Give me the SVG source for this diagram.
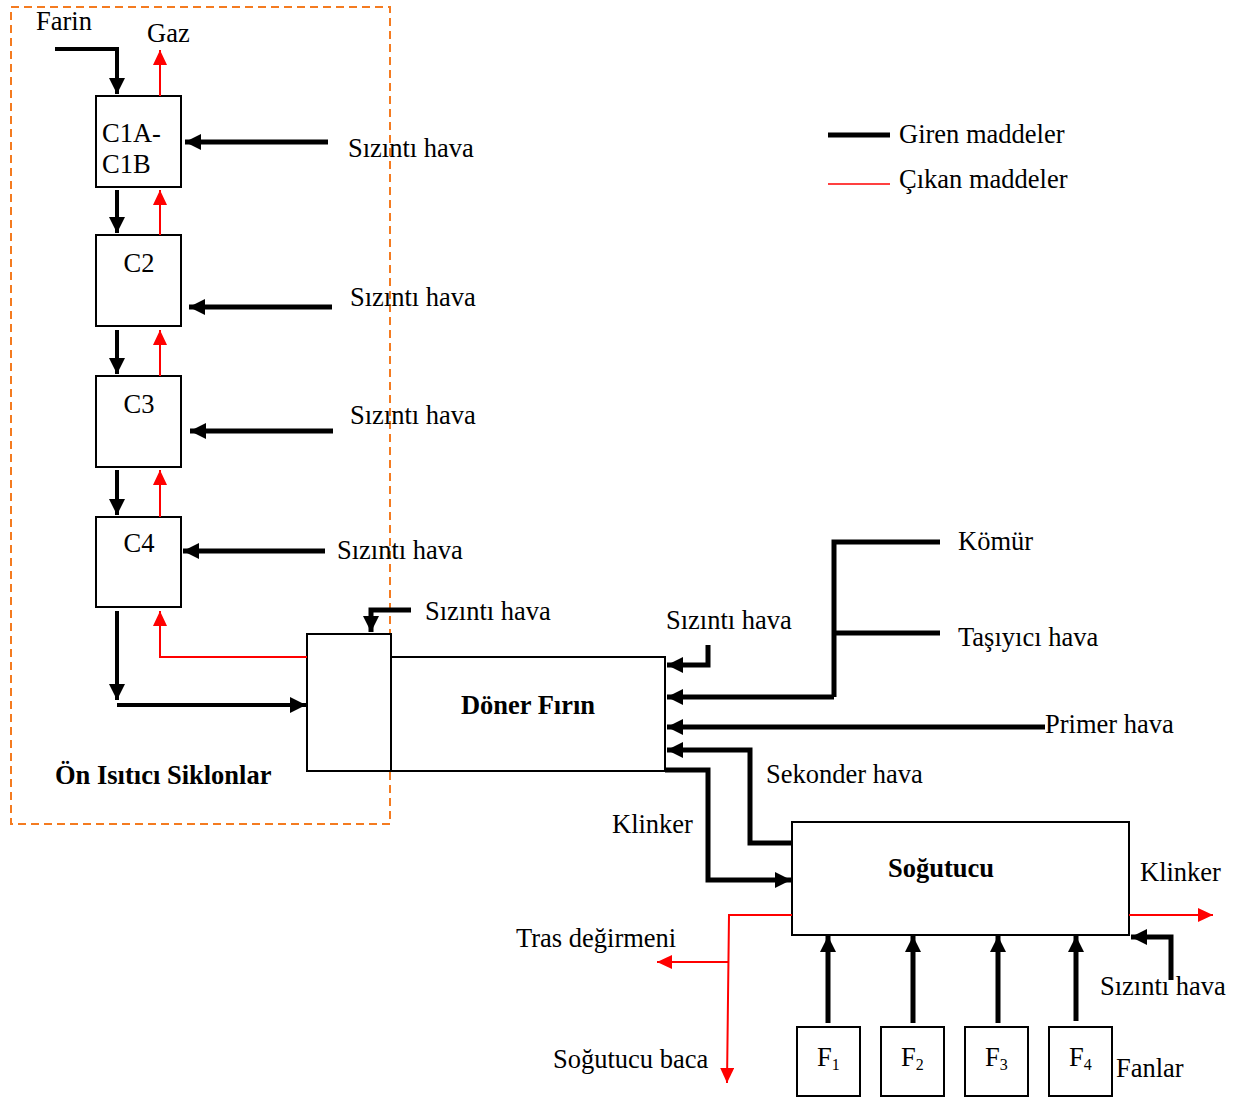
<svg xmlns="http://www.w3.org/2000/svg" width="1252" height="1100" viewBox="0 0 1252 1100">
<style>
text{font-family:"Liberation Serif","Times New Roman",serif;font-size:26.5px;fill:#000}
.b{font-weight:bold}
.box{fill:#fff;stroke:#000;stroke-width:2}
.k{fill:none;stroke:#000;stroke-width:5}
.k4{fill:none;stroke:#000;stroke-width:4}
.r{fill:none;stroke:#f00;stroke-width:2}
.ka{marker-end:url(#hk)}
.ra{marker-end:url(#hr)}
</style>
<defs>
<marker id="hk" markerUnits="userSpaceOnUse" markerWidth="18" markerHeight="18" refX="16" refY="8" orient="auto">
<path d="M0,0 L16,8 L0,16 z" fill="#000"/>
</marker>
<marker id="hr" markerUnits="userSpaceOnUse" markerWidth="18" markerHeight="18" refX="15" refY="7" orient="auto">
<path d="M0,0 L15,7 L0,14 z" fill="#f00"/>
</marker>
</defs>
<rect width="1252" height="1100" fill="#fff"/>

<g id="preheater-frame">
<rect x="11" y="7" width="379" height="817" fill="none" stroke="#F47B20" stroke-width="2" stroke-dasharray="8,5"/>
<text x="55" y="784" class="b">Ön Isıtıcı Siklonlar</text>
</g>

<g id="c1"><rect class="box" x="96" y="96" width="85" height="91"/><text x="102" y="142">C1A-</text><text x="102" y="173">C1B</text></g>
<g id="c2"><rect class="box" x="96" y="235" width="85" height="91"/><text x="139" y="272" text-anchor="middle">C2</text></g>
<g id="c3"><rect class="box" x="96" y="376" width="85" height="91"/><text x="139" y="413" text-anchor="middle">C3</text></g>
<g id="c4"><rect class="box" x="96" y="517" width="85" height="90"/><text x="139" y="552" text-anchor="middle">C4</text></g>
<g id="kiln-inlet"><rect class="box" x="307" y="634" width="84" height="137"/></g>
<g id="kiln"><rect class="box" x="391" y="657" width="274" height="114"/><text x="528" y="714" class="b" text-anchor="middle">Döner Fırın</text></g>
<g id="cooler"><rect class="box" x="792" y="822" width="337" height="113"/><text x="941" y="877" class="b" text-anchor="middle">Soğutucu</text></g>
<g id="f1"><rect class="box" x="797" y="1027" width="63" height="69"/><text x="817" y="1066">F<tspan font-size="16" dy="4">1</tspan></text></g>
<g id="f2"><rect class="box" x="881" y="1027" width="63" height="69"/><text x="901" y="1066">F<tspan font-size="16" dy="4">2</tspan></text></g>
<g id="f3"><rect class="box" x="965" y="1027" width="63" height="69"/><text x="985" y="1066">F<tspan font-size="16" dy="4">3</tspan></text></g>
<g id="f4"><rect class="box" x="1049" y="1027" width="63" height="69"/><text x="1069" y="1066">F<tspan font-size="16" dy="4">4</tspan></text></g>

<g id="legend">
<line x1="828" y1="135" x2="890" y2="135" stroke="#000" stroke-width="5"/>
<text x="899" y="143">Giren maddeler</text>
<line x1="828" y1="184" x2="890" y2="184" stroke="#f00" stroke-width="1.5"/>
<text x="899" y="188">Çıkan maddeler</text>
</g>

<g id="labels">
<text x="36" y="30">Farin</text>
<text x="147" y="42">Gaz</text>
<text x="348" y="157">Sızıntı hava</text>
<text x="350" y="306">Sızıntı hava</text>
<text x="350" y="424">Sızıntı hava</text>
<text x="337" y="559">Sızıntı hava</text>
<text x="425" y="620">Sızıntı hava</text>
<text x="666" y="629">Sızıntı hava</text>
<text x="958" y="550">Kömür</text>
<text x="958" y="646">Taşıyıcı hava</text>
<text x="1045" y="733">Primer hava</text>
<text x="766" y="783">Sekonder hava</text>
<text x="612" y="833">Klinker</text>
<text x="1140" y="881">Klinker</text>
<text x="516" y="947">Tras değirmeni</text>
<text x="553" y="1068">Soğutucu baca</text>
<text x="1100" y="995">Sızıntı hava</text>
<text x="1116" y="1077">Fanlar</text>
</g>

<g id="connectors">
<polyline class="k4 ka" points="55,49 117,49 117,94"/>
<line class="r ra" x1="160" y1="96" x2="160" y2="50"/>
<line class="k ka" x1="328" y1="142" x2="185" y2="142"/>
<line class="k4 ka" x1="117" y1="190" x2="117" y2="233"/>
<line class="r ra" x1="160" y1="235" x2="160" y2="190"/>
<line class="k ka" x1="332" y1="307" x2="189" y2="307"/>
<line class="k4 ka" x1="117" y1="330" x2="117" y2="374"/>
<line class="r ra" x1="160" y1="376" x2="160" y2="330"/>
<line class="k ka" x1="333" y1="431" x2="190" y2="431"/>
<line class="k4 ka" x1="117" y1="470" x2="117" y2="515"/>
<line class="r ra" x1="160" y1="517" x2="160" y2="470"/>
<line class="k ka" x1="325" y1="551" x2="183" y2="551"/>
<line class="k4 ka" x1="117" y1="611" x2="117" y2="700"/>
<line class="k4 ka" x1="117" y1="705" x2="306" y2="705"/>
<polyline class="r ra" points="307,657 160,657 160,611"/>
<polyline class="k ka" points="411,610 371,610 371,632"/>
<polyline class="k ka" points="708,645 708,665 667,665"/>
<polyline class="k" points="940,542 834,542 834,697"/>
<line class="k" x1="834" y1="633" x2="940" y2="633"/>
<line class="k ka" x1="834" y1="697" x2="667" y2="697"/>
<line class="k ka" x1="1045" y1="727" x2="667" y2="727"/>
<polyline class="k ka" points="792,843 750,843 750,750 667,750"/>
<polyline class="k ka" points="665,770 708,770 708,880 791,880"/>
<line class="r ra" x1="1129" y1="915" x2="1213" y2="915"/>
<polyline class="k ka" points="1171,980 1171,937 1131,937"/>
<polyline class="r ra" points="792,915 729,915 727,1083"/>
<line class="r ra" x1="729" y1="962" x2="657" y2="962"/>
<line class="k ka" x1="828" y1="1023" x2="828" y2="936"/>
<line class="k ka" x1="913" y1="1023" x2="913" y2="936"/>
<line class="k ka" x1="998" y1="1023" x2="998" y2="936"/>
<line class="k ka" x1="1076" y1="1021" x2="1076" y2="936"/>
</g>
</svg>
